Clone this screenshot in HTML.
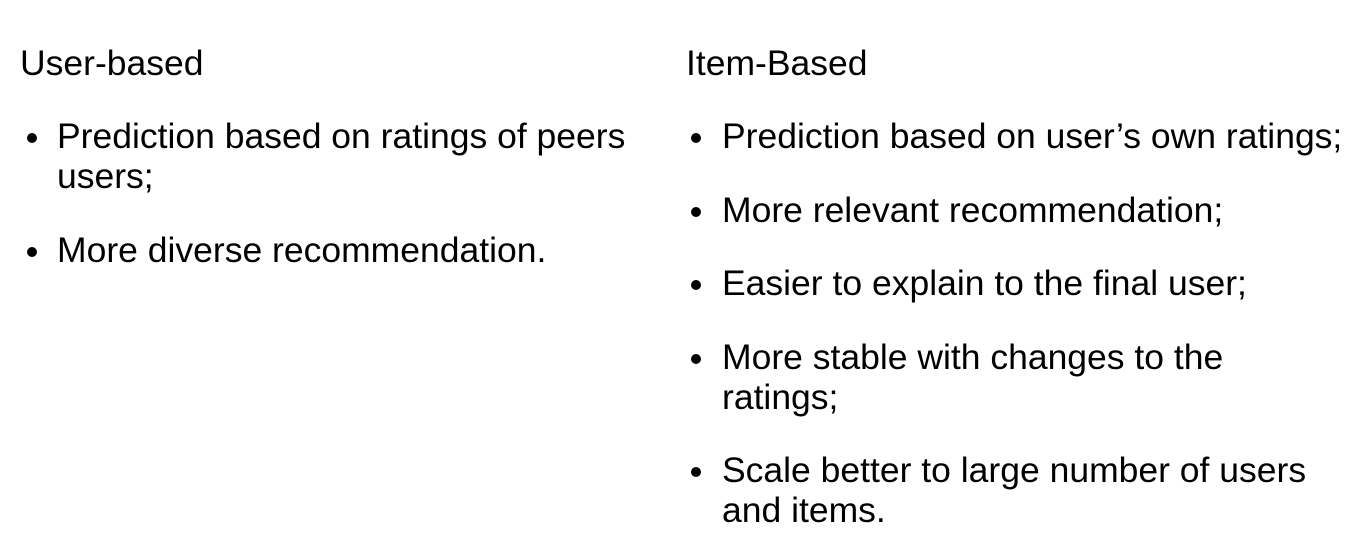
<!DOCTYPE html>
<html><head><meta charset="utf-8"><style>
html,body{margin:0;padding:0;background:#fff;}
body{width:1363px;height:548px;position:relative;overflow:hidden;font-family:"Liberation Sans",Arial,sans-serif;color:#000;}
.t{position:absolute;font-size:35.5px;line-height:32px;white-space:nowrap;}
.b{position:absolute;width:10px;height:10px;border-radius:50%;background:#000;}
</style></head><body>
<div class="t" style="left:20px;top:47px">User-based</div>
<div class="b" style="left:27px;top:133px"></div>
<div class="t" style="left:57px;top:120px">Prediction based on ratings of peers</div>
<div class="t" style="left:57px;top:160px">users;</div>
<div class="b" style="left:27px;top:247px"></div>
<div class="t" style="left:57px;top:234px">More diverse recommendation.</div>

<div class="t" style="left:686px;top:47px">Item-Based</div>
<div class="b" style="left:691px;top:133px"></div>
<div class="t" style="left:722px;top:120px">Prediction based on user’s own ratings;</div>
<div class="b" style="left:691px;top:207px"></div>
<div class="t" style="left:722px;top:194px">More relevant recommendation;</div>
<div class="b" style="left:691px;top:280px"></div>
<div class="t" style="left:722px;top:267px">Easier to explain to the final user;</div>
<div class="b" style="left:691px;top:354px"></div>
<div class="t" style="left:722px;top:341px">More stable with changes to the</div>
<div class="t" style="left:722px;top:381px">ratings;</div>
<div class="b" style="left:691px;top:467px"></div>
<div class="t" style="left:722px;top:454px">Scale better to large number of users</div>
<div class="t" style="left:722px;top:494px">and items.</div>
</body></html>
